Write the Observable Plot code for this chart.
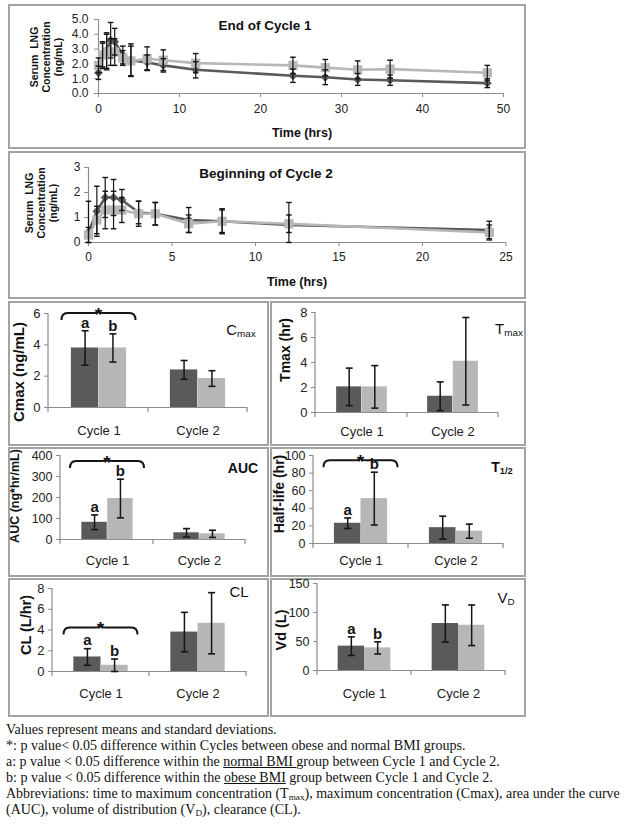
<!DOCTYPE html>
<html><head><meta charset="utf-8">
<script src="https://cdn.jsdelivr.net/npm/d3@7"></script>
<script src="https://cdn.jsdelivr.net/npm/@observablehq/plot@0.6"></script>
<style>
body{margin:0;background:#fff;}
#fig{position:relative;width:624px;height:824px;overflow:hidden;background:#fff;font-family:'Liberation Sans',Arial,sans-serif;color:#111;}
.panel{position:absolute;border:2px solid #a3a3a3;box-sizing:border-box;}
.ov{position:absolute;white-space:nowrap;}
sub{font-size:0.66em;vertical-align:-0.25em;line-height:0;}
</style></head>
<body><div id="fig"></div>
<script>
// ---------- DATA ----------
const cycle1Times = [0, 0.5, 1, 1.5, 2, 3, 4, 6, 8, 12, 24, 28, 32, 36, 48];
const cycle1NormalMean = [1.4, 2.6, 2.9, 3.6, 3.5, 2.6, 2.25, 2.1, 1.9, 1.6, 1.2, 1.1, 0.95, 0.9, 0.7];
const cycle1NormalSD   = [0.45, 0.9, 1.2, 1.2, 0.9, 0.6, 1.1, 0.5, 0.45, 0.55, 0.45, 0.5, 0.4, 0.35, 0.3];
const cycle1ObeseMean  = [1.9, 2.6, 2.8, 2.8, 2.8, 2.4, 2.2, 2.35, 2.25, 2.05, 1.9, 1.75, 1.6, 1.65, 1.4];
const cycle1ObeseSD    = [0.5, 0.8, 1.2, 0.9, 0.9, 0.5, 1.0, 0.8, 0.7, 0.65, 0.55, 0.55, 0.6, 0.6, 0.5];

const cycle2Times = [0, 0.5, 1, 1.5, 2, 3, 4, 6, 8, 12, 24];
const cycle2NormalMean = [0.4, 1.25, 1.8, 1.8, 1.7, 1.2, 1.15, 0.9, 0.85, 0.7, 0.5];
const cycle2NormalSD   = [1.25, 1.0, 0.8, 0.72, 0.42, 0.45, 0.45, 0.5, 0.5, 0.9, 0.35];
const cycle2ObeseMean  = [0.3, 0.9, 1.3, 1.3, 1.3, 1.15, 1.15, 0.75, 0.85, 0.75, 0.4];
const cycle2ObeseSD    = [0.3, 0.55, 0.75, 0.75, 0.5, 0.5, 0.45, 0.35, 0.45, 0.35, 0.3];

const cycles = ["Cycle 1", "Cycle 2"];
const cmaxNormal = [3.8, 2.4],  cmaxNormalSD = [1.1, 0.6],  cmaxObese = [3.8, 1.85], cmaxObeseSD = [0.9, 0.5];
const tmaxNormal = [2.05, 1.3], tmaxNormalSD = [1.5, 1.15], tmaxObese = [2.05, 4.1], tmaxObeseSD = [1.7, 3.5];
const aucNormal = [82, 32],     aucNormalSD = [35, 20],     aucObese = [195, 27],     aucObeseSD = [92, 17];
const thalfNormal = [23, 18],   thalfNormalSD = [6, 13],    thalfObese = [51, 14],    thalfObeseSD = [30, 8];
const clNormal = [1.4, 3.8],    clNormalSD = [0.8, 1.9],    clObese = [0.6, 4.65],    clObeseSD = [0.6, 2.95];
const vdNormal = [42, 81],      vdNormalSD = [16, 32],      vdObese = [39, 78],       vdObeseSD = [10.5, 35];

const line1XTicks = [0, 10, 20, 30, 40, 50], line1YTicks = [0, 1, 2, 3, 4, 5];
const line2XTicks = [0, 5, 10, 15, 20, 25], line2YTicks = [0, 1, 2, 3];
const cmaxTicks = [0, 2, 4, 6], tmaxTicks = [0, 2, 4, 6, 8], aucTicks = [0, 100, 200, 300, 400];
const thalfTicks = [0, 20, 40, 60, 80, 100], clTicks = [0, 2, 4, 6, 8], vdTicks = [0, 50, 100, 150];

const notes = [
  "Values represent means and standard deviations.",
  "*: p value&lt; 0.05 difference within Cycles between obese and normal BMI groups.",
  "a: p value &lt; 0.05 difference within the <u>normal BMI </u>group between Cycle 1 and Cycle 2.",
  "b: p value &lt; 0.05 difference within the <u>obese BMI</u> group between Cycle 1 and Cycle 2.",
  "Abbreviations: time to maximum concentration (T<sub>max</sub>), maximum concentration (Cmax), area under the curve",
  "(AUC), volume of distribution (V<sub>D</sub>), clearance (CL)."
];

// ---------- STYLE ----------
const DARK = "#5a5a5a", LIGHT = "#b7b7b7", AXIS = "#8c8c8c", INK = "#151515";
const FONT = "'Liberation Sans', Arial, Helvetica, sans-serif";
const fig = document.getElementById("fig");

function capSym(w) { return {draw(ctx) { ctx.moveTo(-w, 0); ctx.lineTo(w, 0); }}; }
const capLine = capSym(2.8), capBar = capSym(3.5);

function box(l, t, w, h) {
  const d = document.createElement("div"); d.className = "panel";
  d.style.left = l + "px"; d.style.top = t + "px"; d.style.width = w + "px"; d.style.height = h + "px";
  fig.appendChild(d);
}
function ov(html, x, y, css = "", rot = false) {
  const d = document.createElement("div"); d.className = "ov"; d.innerHTML = html;
  d.style.left = x + "px"; d.style.top = y + "px";
  d.style.transform = "translate(-50%,-50%)" + (rot ? " rotate(-90deg)" : "");
  d.style.cssText += css;
  fig.appendChild(d);
}
function put(svg, l, t) {
  svg.style.position = "absolute"; svg.style.left = l + "px"; svg.style.top = t + "px";
  svg.style.overflow = "visible"; svg.style.maxWidth = "none";
  fig.appendChild(svg);
}

function lineChart(c) {
  const rows = (ms, sds) => c.times.map((t, i) => ({t, m: ms[i], sd: sds[i]}));
  const N = rows(c.nMean, c.nSD), O = rows(c.oMean, c.oSD);
  const lo = d => Math.max(0, d.m - d.sd), hi = d => d.m + d.sd;
  const errs = D => [
    Plot.ruleX(D, {x: "t", y1: lo, y2: hi, stroke: INK, strokeWidth: 1.2}),
    Plot.dot(D, {x: "t", y: hi, symbol: capLine, stroke: INK, strokeWidth: 1.4, fill: "none"}),
    Plot.dot(D, {x: "t", y: lo, symbol: capLine, stroke: INK, strokeWidth: 1.4, fill: "none"})
  ];
  return Plot.plot({
    width: c.width, height: c.height,
    marginLeft: c.mL, marginRight: c.mR, marginTop: c.mT, marginBottom: c.mB,
    style: {fontFamily: FONT, fontSize: "11.5px", color: "#222", background: "transparent"},
    x: {type: "linear", domain: c.xDomain}, y: {domain: c.yDomain},
    marks: [
      Plot.ruleY([c.yDomain[0]], {stroke: AXIS, strokeWidth: 1.2}),
      Plot.ruleX([c.xDomain[0]], {stroke: AXIS, strokeWidth: 1.2}),
      Plot.axisX({ticks: c.xTicks, tickSize: 4, tickPadding: c.xPad, stroke: AXIS, label: null, fontSize: 12}),
      Plot.axisY({ticks: c.yTicks, tickSize: 4, tickPadding: c.yPad, tickFormat: c.yFmt, stroke: AXIS, label: null, fontSize: 12}),
      Plot.line(N, {x: "t", y: "m", stroke: DARK, strokeWidth: 2.6}),
      Plot.dot(N, {x: "t", y: "m", symbol: "diamond2", r: 4, fill: DARK}),
      Plot.line(O, {x: "t", y: "m", stroke: LIGHT, strokeWidth: 2.6}),
      Plot.dot(O, {x: "t", y: "m", symbol: "square", r: 5.2, fill: LIGHT}),
      ...errs(N), ...errs(O)
    ]
  });
}

function bracket(cat, yVal, half = 37) {
  return (index, scales) => {
    const x = scales.x, y = scales.y;
    const cx = x(cat) + x.bandwidth() / 2, yb = y(yVal);
    const l = cx - half, r = cx + half, h = 7, rr = 6;
    const d = `M${l},${yb + h} Q${l},${yb} ${l + rr},${yb} L${cx - 5},${yb} Q${cx},${yb} ${cx},${yb - 3} Q${cx},${yb} ${cx + 5},${yb} L${r - rr},${yb} Q${r},${yb} ${r},${yb + h}`;
    const g = d3.create("svg:g");
    g.append("path").attr("d", d).attr("fill", "none").attr("stroke", INK).attr("stroke-width", 2);
    g.append("text").attr("x", cx).attr("y", yb + 8).attr("text-anchor", "middle")
      .attr("font-size", 19).attr("font-weight", "bold").attr("fill", INK).text("*");
    return g.node();
  };
}

function axisFrame(index, scales, values, dims) {
  const x = scales.x, y0 = dims.height - dims.marginBottom;
  const g = d3.create("svg:g").attr("stroke", AXIS).attr("stroke-width", 1.2);
  g.append("line").attr("x1", dims.marginLeft).attr("x2", dims.marginLeft).attr("y1", dims.marginTop).attr("y2", y0);
  g.append("line").attr("x1", dims.marginLeft).attr("x2", dims.marginLeft).attr("y1", y0).attr("y2", y0 + 5);
  for (const cy of cycles) {
    const xr = x(cy) + x.bandwidth();
    g.append("line").attr("x1", xr).attr("x2", xr).attr("y1", y0).attr("y2", y0 + 5);
  }
  return g.node();
}

function barChart(c) {
  const bw = (c.width - c.mL - c.mR) / cycles.length;
  const barW = bw * 0.28;
  const rows = (ms, sds) => cycles.map((cy, i) => ({c: cy, m: ms[i], sd: sds[i]}));
  const N = rows(c.nMean, c.nSD), O = rows(c.oMean, c.oSD);
  const lo = d => Math.max(0, d.m - d.sd), hi = d => d.m + d.sd;
  const errs = (D, dx) => [
    Plot.ruleX(D, {x: "c", y1: lo, y2: hi, dx, stroke: INK, strokeWidth: 1.5}),
    Plot.dot(D, {x: "c", y: hi, dx, symbol: capBar, stroke: INK, strokeWidth: 1.6, fill: "none"}),
    Plot.dot(D, {x: "c", y: lo, dx, symbol: capBar, stroke: INK, strokeWidth: 1.6, fill: "none"})
  ];
  const marks = [
    Plot.barY(N, {x: "c", y: "m", fill: DARK, insetLeft: bw / 2 - barW, insetRight: bw / 2}),
    Plot.barY(O, {x: "c", y: "m", fill: LIGHT, insetLeft: bw / 2, insetRight: bw / 2 - barW}),
    Plot.ruleY([0], {stroke: AXIS, strokeWidth: 1.2}),
    axisFrame,
    Plot.axisY({ticks: c.yTicks, tickSize: 4, tickPadding: 4, tickFormat: d3.format("d"), stroke: AXIS, label: null, fontSize: c.tickFont || 13}),
    Plot.axisX({tickSize: 0, tickPadding: c.xPad, label: null, fontSize: 13}),
    ...errs(N, -barW / 2), ...errs(O, barW / 2)
  ];
  if (c.letters) {
    marks.push(
      Plot.text([N[0]], {x: "c", y: hi, text: () => "a", dx: -barW / 2, dy: -8, fontWeight: "bold", fontSize: 15, fill: INK}),
      Plot.text([O[0]], {x: "c", y: hi, text: () => "b", dx: barW / 2, dy: -8, fontWeight: "bold", fontSize: 15, fill: INK})
    );
  }
  if (c.bracketY != null) marks.push(bracket(cycles[0], c.bracketY));
  return Plot.plot({
    width: c.width, height: c.height,
    marginLeft: c.mL, marginRight: c.mR, marginTop: c.mT, marginBottom: c.mB,
    style: {fontFamily: FONT, fontSize: "13px", color: "#222", background: "transparent"},
    x: {domain: cycles, padding: 0}, y: {domain: c.yDomain},
    marks
  });
}

// ---------- PANELS ----------
box(8, 4, 518, 145);
box(8, 151, 518, 148);
box(8, 301, 261, 145); box(270, 301, 256, 145);
box(8, 447, 261, 130); box(270, 447, 256, 130);
box(8, 578, 261, 139); box(270, 578, 256, 139);

put(lineChart({times: cycle1Times, nMean: cycle1NormalMean, nSD: cycle1NormalSD, oMean: cycle1ObeseMean, oSD: cycle1ObeseSD,
  xDomain: [0, 50], yDomain: [0, 5], xTicks: line1XTicks, yTicks: line1YTicks, yFmt: d3.format(".1f"),
  width: 514, height: 141, mL: 88, mR: 21, mT: 13, mB: 54, xPad: 7, yPad: 6}), 10, 6);
put(lineChart({times: cycle2Times, nMean: cycle2NormalMean, nSD: cycle2NormalSD, oMean: cycle2ObeseMean, oSD: cycle2ObeseSD,
  xDomain: [0, 25], yDomain: [0, 3], xTicks: line2XTicks, yTicks: line2YTicks, yFmt: d3.format("d"),
  width: 514, height: 144, mL: 78, mR: 18.5, mT: 14, mB: 55, xPad: 6, yPad: 4}), 10, 153);

put(barChart({nMean: cmaxNormal, nSD: cmaxNormalSD, oMean: cmaxObese, oSD: cmaxObeseSD, yDomain: [0, 6], yTicks: cmaxTicks,
  width: 258, height: 141, mL: 38, mR: 21, mT: 10, mB: 37, xPad: 18, letters: true, bracketY: 6}), 10, 303);
put(barChart({nMean: tmaxNormal, nSD: tmaxNormalSD, oMean: tmaxObese, oSD: tmaxObeseSD, yDomain: [0, 8], yTicks: tmaxTicks,
  width: 252, height: 141, mL: 43, mR: 26, mT: 9, mB: 32, xPad: 14}), 272, 303);
put(barChart({nMean: aucNormal, nSD: aucNormalSD, oMean: aucObese, oSD: aucObeseSD, yDomain: [0, 400], yTicks: aucTicks,
  width: 258, height: 126, mL: 50, mR: 23, mT: 6, mB: 36, xPad: 16, letters: true, bracketY: 372, tickFont: 12.5}), 10, 449);
put(barChart({nMean: thalfNormal, nSD: thalfNormalSD, oMean: thalfObese, oSD: thalfObeseSD, yDomain: [0, 100], yTicks: thalfTicks,
  width: 252, height: 126, mL: 41, mR: 21, mT: 6, mB: 32, xPad: 12.5, letters: true, bracketY: 94, tickFont: 12.5}), 272, 449);
put(barChart({nMean: clNormal, nSD: clNormalSD, oMean: clObese, oSD: clObeseSD, yDomain: [0, 8], yTicks: clTicks,
  width: 258, height: 135, mL: 42, mR: 22, mT: 8, mB: 44, xPad: 17.5, letters: true, bracketY: 4.2}), 10, 580);
put(barChart({nMean: vdNormal, nSD: vdNormalSD, oMean: vdObese, oSD: vdObeseSD, yDomain: [0, 150], yTicks: vdTicks,
  width: 252, height: 135, mL: 45, mR: 19, mT: 3, mB: 45, xPad: 18.5, letters: true, tickFont: 12.5}), 272, 580);

// ---------- TEXT OVERLAYS ----------
const yLab = "Serum&nbsp; LNG<br>Concentration<br>(ng/mL)";
const yLabCss = "font-weight:bold;font-size:10.5px;line-height:12px;text-align:center;";
ov(yLab, 46, 57, yLabCss, true);
ov(yLab, 41, 203, yLabCss, true);
ov("End of Cycle 1", 265, 25, "font-weight:bold;font-size:13.5px;");
ov("Beginning of Cycle 2", 266, 173, "font-weight:bold;font-size:13.5px;");
ov("Time (hrs)", 302, 133, "font-weight:bold;font-size:12.5px;");
ov("Time (hrs)", 297, 282, "font-weight:bold;font-size:12.5px;");

ov("Cmax (ng/mL)", 18, 372, "font-weight:bold;font-size:15px;", true);
ov("Tmax (hr)", 285, 350, "font-weight:bold;font-size:14px;", true);
ov("AUC (ng*hr/mL)", 15, 496, "font-weight:bold;font-size:12.5px;", true);
ov("Half-life (hr)", 279, 494, "font-weight:bold;font-size:14px;", true);
ov("CL (L/hr)", 26, 625, "font-weight:bold;font-size:14.5px;", true);
ov("Vd (L)", 281, 630, "font-weight:bold;font-size:14.5px;", true);

ov("C<sub>max</sub>", 241, 329, "font-size:15px;");
ov("T<sub>max</sub>", 509, 328, "font-size:15px;");
ov("AUC", 243, 468, "font-weight:bold;font-size:14px;");
ov("T<sub>1/2</sub>", 502, 467, "font-weight:bold;font-size:14px;");
ov("CL", 239, 591, "font-size:15px;");
ov("V<sub>D</sub>", 506, 597, "font-size:15px;");

const nd = document.createElement("div");
nd.className = "ov";
nd.style.cssText = "left:6px;top:722px;font-family:'Liberation Serif','Times New Roman',serif;font-size:14px;line-height:16px;color:#111;";
nd.innerHTML = notes.join("<br>");
fig.appendChild(nd);
</script>
</body></html>
